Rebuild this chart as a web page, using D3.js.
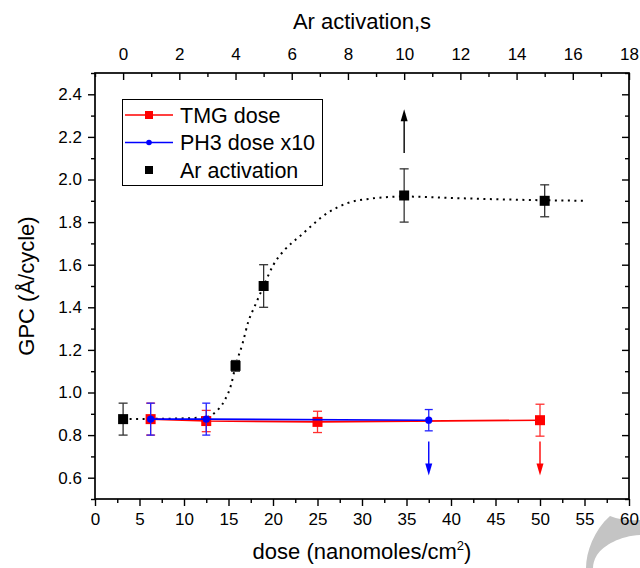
<!DOCTYPE html>
<html>
<head>
<meta charset="utf-8">
<script src="https://cdn.jsdelivr.net/npm/d3@7"></script>
<style>
  html, body { margin: 0; padding: 0; background: #fff; }
  svg { display: block; font-family: "Liberation Sans", Arial, sans-serif; }
</style>
</head>
<body>
<svg id="chart" width="640" height="568"></svg>
<script>
// ---- data ----
const tmgDose = [6.25, 12.5, 25, 50];
const tmgGPC  = [0.875, 0.866, 0.862, 0.87];
const tmgErr  = [0.075, 0.05, 0.05, 0.075];

const ph3Dose = [6.25, 12.5, 37.5];
const ph3GPC  = [0.875, 0.875, 0.87];
const ph3Err  = [0.075, 0.075, 0.05];

const arTime = [0, 4, 5, 10, 15];
const arGPC  = [0.875, 1.125, 1.50, 1.925, 1.90];
const arErr  = [0.075, 0.025, 0.10, 0.125, 0.075];

const fitTime = [0, 1, 2, 3, 3.3, 3.6, 3.85, 4.0, 4.25, 4.45, 4.7, 5.0, 5.35, 5.75, 6.3, 7.3, 8.0, 8.8, 9.5, 10, 12, 14, 16.4];
const fitGPC  = [0.875, 0.876, 0.878, 0.885, 0.91, 0.96, 1.04, 1.125, 1.23, 1.33, 1.41, 1.5, 1.6, 1.67, 1.735, 1.845, 1.89, 1.91, 1.918, 1.92, 1.912, 1.905, 1.90];

// arrows: [x, yFrom, yTo]
const upArrowAr    = [10, 2.125, 2.33];
const downArrowPH3 = [37.5, 0.77, 0.61];
const downArrowTMG = [50, 0.77, 0.61];

const doseTicks = d3.range(0, 61, 5);
const doseMinor = d3.range(2.5, 60, 5);
const timeTicks = d3.range(0, 19, 2);
const timeMinor = d3.range(-1, 18, 2);
const gpcTicks  = [0.6, 0.8, 1.0, 1.2, 1.4, 1.6, 1.8, 2.0, 2.2, 2.4];
const gpcMinor  = [0.5, 0.7, 0.9, 1.1, 1.3, 1.5, 1.7, 1.9, 2.1, 2.3, 2.5];

// ---- layout ----
const L = 95, R = 629, T = 73, B = 499;
const svg = d3.select("#chart");
const x  = d3.scaleLinear().domain([0, 60]).range([L, R]);
const xt = d3.scaleLinear().domain([-1, 18]).range([L, R]);
const y  = d3.scaleLinear().domain([0.5, 2.5]).range([B, T]);

// watermark (decorative)
svg.append("path")
  .attr("d", "M610,516 C620,520 630,521 640,520 L640,535 C620,536 604,545 597,555 C594,560 593,564 593,568 L586,568 C586,552 594,530 610,516 Z")
  .attr("fill", "#c4c4c4");

const tickFont = "17px";

function styleAxis(g) {
  g.select(".domain").remove();
  g.selectAll("line").attr("stroke", "#000").attr("stroke-width", 1.4);
  g.selectAll("text").attr("font-size", tickFont).attr("fill", "#000")
    .attr("font-family", '"Liberation Sans", Arial, sans-serif');
}

// bottom axis
svg.append("g").attr("transform", `translate(0,${B})`)
  .call(d3.axisBottom(x).tickValues(doseTicks).tickSize(7).tickPadding(7).tickFormat(d3.format("d")))
  .call(styleAxis);
svg.append("g").attr("transform", `translate(0,${B})`)
  .call(d3.axisBottom(x).tickValues(doseMinor).tickSize(4).tickFormat(""))
  .call(styleAxis);

// top axis (ticks inward)
svg.append("g").attr("transform", `translate(0,${T})`)
  .call(d3.axisTop(xt).tickValues(timeTicks).tickSize(-7).tickPadding(13).tickFormat(d3.format("d")))
  .call(styleAxis);
svg.append("g").attr("transform", `translate(0,${T})`)
  .call(d3.axisTop(xt).tickValues(timeMinor).tickSize(-4).tickFormat(""))
  .call(styleAxis);

// left axis
svg.append("g").attr("transform", `translate(${L},0)`)
  .call(d3.axisLeft(y).tickValues(gpcTicks).tickSize(7).tickPadding(6).tickFormat(d3.format(".1f")))
  .call(styleAxis);
svg.append("g").attr("transform", `translate(${L},0)`)
  .call(d3.axisLeft(y).tickValues(gpcMinor).tickSize(4).tickFormat(""))
  .call(styleAxis);

// right axis (ticks inward, no labels)
svg.append("g").attr("transform", `translate(${R},0)`)
  .call(d3.axisLeft(y).tickValues(gpcTicks).tickSize(7).tickFormat(""))
  .call(styleAxis);
svg.append("g").attr("transform", `translate(${R},0)`)
  .call(d3.axisLeft(y).tickValues(gpcMinor).tickSize(4).tickFormat(""))
  .call(styleAxis);

// frame
svg.append("rect").attr("x", L).attr("y", T).attr("width", R - L).attr("height", B - T)
  .attr("fill", "none").attr("stroke", "#000").attr("stroke-width", 1.7);

// axis titles
svg.append("text").attr("x", (L + R) / 2).attr("y", 29).attr("text-anchor", "middle")
  .attr("font-size", "22px").text("Ar activation,s");
const xt2 = svg.append("text").attr("x", (L + R) / 2).attr("y", 559).attr("text-anchor", "middle")
  .attr("font-size", "22px");
xt2.append("tspan").text("dose (nanomoles/cm");
xt2.append("tspan").attr("font-size", "13px").attr("dy", "-9").text("2");
xt2.append("tspan").attr("dy", "9").text(")");
svg.append("text").attr("transform", `translate(34,${(T + B) / 2}) rotate(-90)`)
  .attr("text-anchor", "middle").attr("font-size", "22px").text("GPC (Å/cycle)");

// helpers
function errorBars(g, xs, ys, es, xScale, color, cap) {
  xs.forEach((xv, i) => {
    const cx = xScale(xv), y1 = y(ys[i] - es[i]), y2 = y(ys[i] + es[i]);
    g.append("line").attr("x1", cx).attr("x2", cx).attr("y1", y1).attr("y2", y2)
      .attr("stroke", color).attr("stroke-width", 1.3);
    [y1, y2].forEach(yy => g.append("line").attr("x1", cx - cap).attr("x2", cx + cap)
      .attr("y1", yy).attr("y2", yy).attr("stroke", color).attr("stroke-width", 1.3));
  });
}
function arrow(g, a, xScale, color) {
  const cx = xScale(a[0]), y0 = y(a[1]), y1 = y(a[2]);
  const dir = y1 < y0 ? 1 : -1; // 1 => pointing up
  const headLen = 12, headW = 3.5;
  g.append("line").attr("x1", cx).attr("x2", cx).attr("y1", y0).attr("y2", y1 + dir * headLen * 0.6)
    .attr("stroke", color).attr("stroke-width", 1.4);
  g.append("path")
    .attr("d", `M${cx},${y1} L${cx - headW},${y1 + dir * headLen} L${cx + headW},${y1 + dir * headLen} Z`)
    .attr("fill", color);
}

const plot = svg.append("g");

// Ar activation fit curve (dotted)
const fitData = fitTime.map((t, i) => [t, fitGPC[i]]);
plot.append("path").datum(fitData)
  .attr("d", d3.line().x(d => xt(d[0])).y(d => y(d[1])).curve(d3.curveMonotoneX))
  .attr("fill", "none").attr("stroke", "#000").attr("stroke-width", 2)
  .attr("stroke-dasharray", "2,4.5");

// Ar points
const arG = plot.append("g");
errorBars(arG, arTime, arGPC, arErr, xt, "#333", 4.5);
arG.selectAll("rect").data(arTime).join("rect")
  .attr("x", (d) => xt(d) - 5).attr("y", (d, i) => y(arGPC[i]) - 5)
  .attr("width", 10).attr("height", 10).attr("fill", "#000");
arrow(arG, upArrowAr, xt, "#000");

// TMG
const tmgG = plot.append("g");
tmgG.append("path").datum(tmgDose.map((d, i) => [d, tmgGPC[i]]))
  .attr("d", d3.line().x(d => x(d[0])).y(d => y(d[1])))
  .attr("fill", "none").attr("stroke", "#ff0000").attr("stroke-width", 1.6);
errorBars(tmgG, tmgDose, tmgGPC, tmgErr, x, "#ff3030", 4.5);
tmgG.selectAll("rect").data(tmgDose).join("rect")
  .attr("x", d => x(d) - 5).attr("y", (d, i) => y(tmgGPC[i]) - 5)
  .attr("width", 10).attr("height", 10).attr("fill", "#ff0000");
arrow(tmgG, downArrowTMG, x, "#ff0000");

// PH3
const phG = plot.append("g");
phG.append("path").datum(ph3Dose.map((d, i) => [d, ph3GPC[i]]))
  .attr("d", d3.line().x(d => x(d[0])).y(d => y(d[1])))
  .attr("fill", "none").attr("stroke", "#0000ff").attr("stroke-width", 1.6);
errorBars(phG, ph3Dose, ph3GPC, ph3Err, x, "#2020ff", 4);
phG.selectAll("circle").data(ph3Dose).join("circle")
  .attr("cx", d => x(d)).attr("cy", (d, i) => y(ph3GPC[i])).attr("r", 3.6)
  .attr("fill", "#0000ff");
arrow(phG, downArrowPH3, x, "#0000ff");

// legend
const lg = svg.append("g");
lg.append("rect").attr("x", 122.5).attr("y", 99.5).attr("width", 200).attr("height", 86)
  .attr("fill", "#fff").attr("stroke", "#000").attr("stroke-width", 1);
const legendItems = [
  { label: "TMG dose", color: "#ff0000", line: true, marker: "square" },
  { label: "PH3 dose x10", color: "#0000ff", line: true, marker: "circle" },
  { label: "Ar activation", color: "#000", line: false, marker: "square" }
];
legendItems.forEach((it, i) => {
  const cy = 115 + i * 27.5;
  if (it.line) lg.append("line").attr("x1", 125).attr("x2", 173).attr("y1", cy).attr("y2", cy)
    .attr("stroke", it.color).attr("stroke-width", 1.5);
  if (it.marker === "square") lg.append("rect").attr("x", 145).attr("y", cy - 4).attr("width", 8).attr("height", 8).attr("fill", it.color);
  else lg.append("circle").attr("cx", 149).attr("cy", cy).attr("r", 2.8).attr("fill", it.color);
  lg.append("text").attr("x", 180).attr("y", cy + 7.5).attr("font-size", "21.5px").attr("fill", "#000").text(it.label);
});
</script>
</body>
</html>
